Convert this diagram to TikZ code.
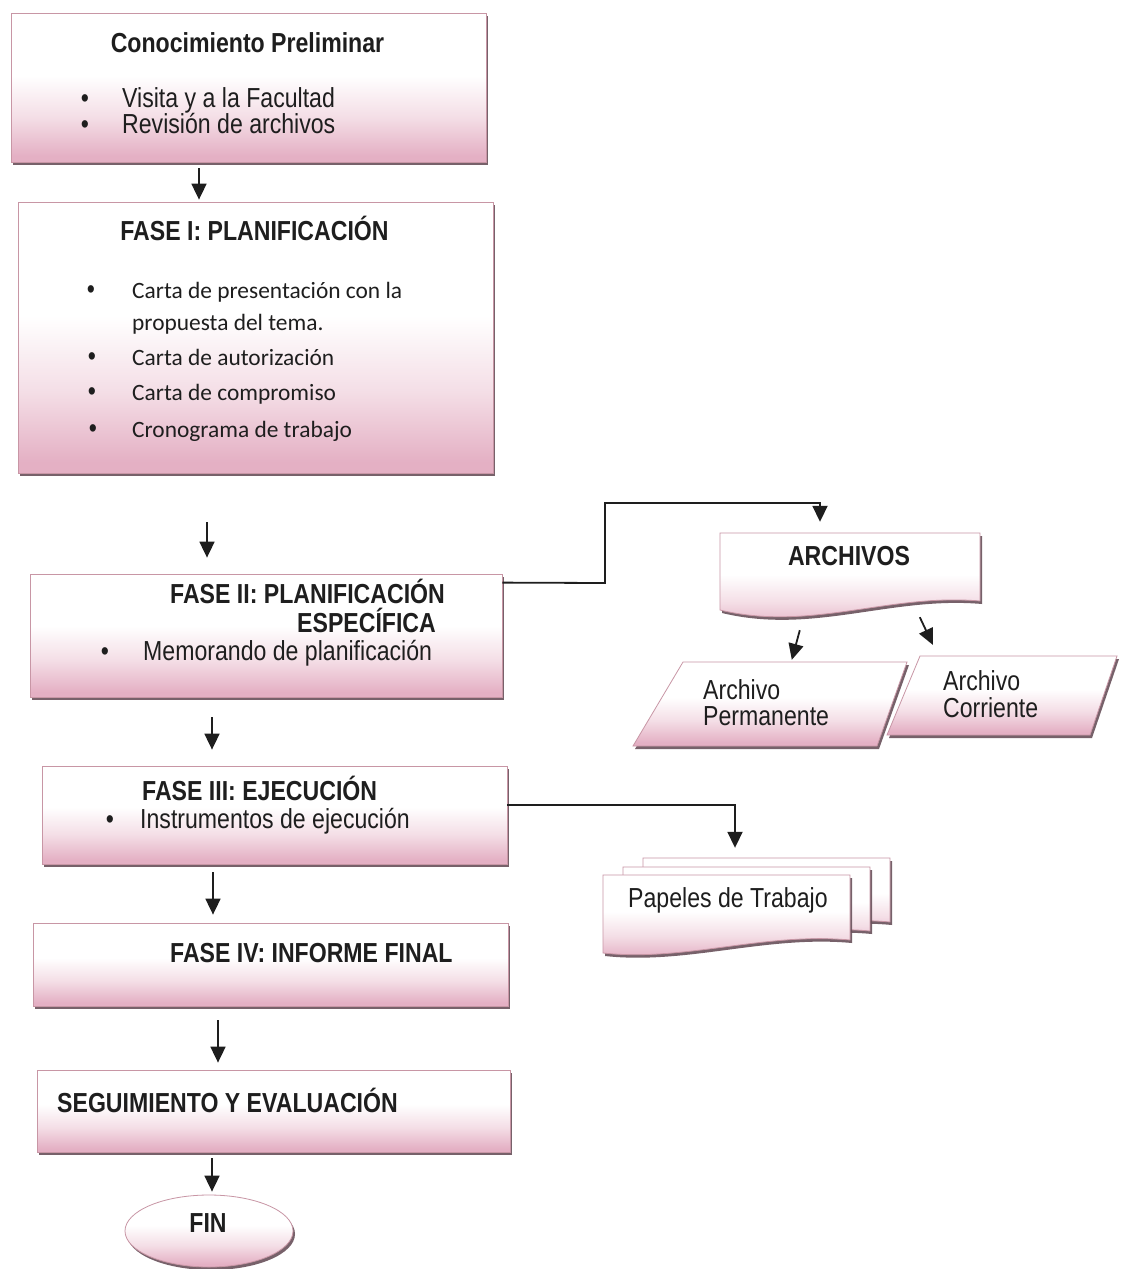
\documentclass[tikz,border=0pt]{standalone}
\usepackage{fontspec}
\setmainfont{Liberation Sans}
\newfontfamily\narfont{Liberation Sans}[FakeStretch=0.84]
\newfontfamily\calfont{Carlito}
\usetikzlibrary{arrows.meta,shapes.geometric,shadows,calc}
\definecolor{pinkc}{RGB}{228,176,196}
\definecolor{pinkm}{RGB}{244,222,230}
\definecolor{bord}{RGB}{200,150,165}
\definecolor{shad}{RGB}{105,80,90}
\definecolor{ink}{RGB}{30,30,30}
\pgfdeclareverticalshading{pinkgrad}{100bp}{color(0bp)=(pinkc); color(27bp)=(pinkc); color(40bp)=(pinkm); color(54bp)=(white); color(100bp)=(white)}
\tikzset{
  box/.style={draw=bord, line width=0.8pt, shade, shading=pinkgrad,
    drop shadow={shadow xshift=2pt, shadow yshift=-3pt, fill=shad, opacity=0.9}, inner sep=0pt},
  geo/.style={inner sep=0pt},
  arr/.style={line width=1.8pt, draw=ink, -{Triangle[width=15pt,length=16pt]}},
  tbc/.style={anchor=base, inner sep=0pt, text=ink, font=\narfont\bfseries\fontsize{27.5}{33}\selectfont},
  tbw/.style={anchor=base west, inner sep=0pt, text=ink, font=\narfont\bfseries\fontsize{27.5}{33}\selectfont},
  trw/.style={anchor=base west, inner sep=0pt, text=ink, font=\narfont\fontsize{27.5}{33}\selectfont},
  bul/.style={anchor=base, inner sep=0pt, text=ink, font=\narfont\fontsize{27.5}{33}\selectfont},
  cal/.style={anchor=base west, inner sep=0pt, text=ink, font=\calfont\fontsize{23.4}{28}\selectfont},
}
\begin{document}
\begin{tikzpicture}[x=1pt,y=-1pt]
\fill[white] (0,0) rectangle (1120,1269);
\useasboundingbox (0,0) rectangle (1120,1269);

% main boxes
\node[box, minimum width=475pt, minimum height=149pt] (b1) at (248.5,87.5) {};
\node[box, minimum width=475pt, minimum height=271pt] (b2) at (255.5,337.5) {};
\node[box, minimum width=472pt, minimum height=123pt] (b3) at (266,635.5) {};
\node[box, minimum width=465pt, minimum height=98pt] (b4) at (274.5,815) {};
\node[box, minimum width=475pt, minimum height=83pt] (b5) at (270.5,964.5) {};
\node[box, minimum width=473pt, minimum height=82pt] (b6) at (273.5,1111) {};
\node[box, ellipse, minimum width=168pt, minimum height=72pt] (fin) at (209,1231) {};

% right side shapes
\path[box] (720,533) -- (980,533) -- (980,601) .. controls (889,593) and (811,632) .. (720,610) -- cycle;
\path[box] (683,662) -- (907,662) -- (877,746) -- (633,746) -- cycle;
\path[box] (920,656) -- (1117,656) -- (1090,735) -- (887,735) -- cycle;
\path[box] (643,858) -- (890,858) -- (890,922) .. controls (804,914) and (725,942) .. (643,935) -- cycle;
\path[box] (623,867) -- (870,867) -- (870,931) .. controls (784,923) and (705,951) .. (623,944) -- cycle;
\path[box] (603,875) -- (850,875) -- (850,940) .. controls (764,932) and (685,962) .. (603,953) -- cycle;

% invisible geometry nodes for the right side shapes
\node[geo, minimum width=260pt, minimum height=87pt] (arch) at (850,576.5) {};
\node[geo, minimum width=274pt, minimum height=84pt] (par1) at (770,704) {};
\node[geo, minimum width=230pt, minimum height=79pt] (par2) at (1002,695.5) {};
\node[geo, minimum width=247pt, minimum height=80pt] (pap) at (726.5,915) {};

% texts box 1
\node[tbc] (t1) at (247.5,52) {Conocimiento Preliminar};
\node[bul] (t1b1) at (85,107) {•};
\node[trw] (t1l1) at (122,107) {Visita y a la Facultad};
\node[bul] (t1b2) at (85,133) {•};
\node[trw] (t1l2) at (122,133) {Revisión de archivos};

% texts box 2
\node[tbc] (t2) at (254.5,240) {FASE I: PLANIFICACIÓN};
\node[bul] (t2b1) at (91,298) {•};
\node[cal] (t2l1) at (132,298) {Carta de presentación con la};
\node[cal] (t2l2) at (132,330) {propuesta del tema.};
\node[bul] (t2b3) at (92,365) {•};
\node[cal] (t2l3) at (132,365) {Carta de autorización};
\node[bul] (t2b4) at (92,400) {•};
\node[cal] (t2l4) at (132,400) {Carta de compromiso};
\node[bul] (t2b5) at (93,437) {•};
\node[cal] (t2l5) at (132,437) {Cronograma de trabajo};

% texts box 3
\node[tbw] (t3a) at (170,603) {FASE II: PLANIFICACIÓN};
\node[tbw] (t3b) at (297,632) {ESPECÍFICA};
\node[bul] (t3b1) at (105,660) {•};
\node[trw] (t3l1) at (143,660) {Memorando de planificación};

% texts box 4
\node[tbw] (t4) at (142,800) {FASE III: EJECUCIÓN};
\node[bul] (t4b1) at (110,828) {•};
\node[trw] (t4l1) at (140,828) {Instrumentos de ejecución};

% texts box 5, 6, fin
\node[tbw] (t5) at (170,962) {FASE IV: INFORME FINAL};
\node[tbw] (t6) at (57,1112) {SEGUIMIENTO Y EVALUACIÓN};
\node[tbc] (tfin) at (208,1232) {FIN};

% right texts
\node[tbc] (tarch) at (849,565) {ARCHIVOS};
\node[trw] (tp1) at (703,699) {Archivo};
\node[trw] (tp2) at (703,725) {Permanente};
\node[trw] (tc1) at (943,690) {Archivo};
\node[trw] (tc2) at (943,717) {Corriente};
\node[trw] (tpap) at (628,907) {Papeles de Trabajo};

% vertical arrows
\draw[arr, shorten <=6pt, shorten >=2pt] (b1.south -| 199,0) -- (b2.north -| 199,0);
\draw[arr, shorten <=49pt, shorten >=16pt] (b2.south -| 207,0) -- (b3.north -| 207,0);
\draw[arr, shorten <=20pt, shorten >=16pt] (b3.south -| 212,0) -- (b4.north -| 212,0);
\draw[arr, shorten <=8pt, shorten >=8pt] (b4.south -| 213,0) -- (b5.north -| 213,0);
\draw[arr, shorten <=14pt, shorten >=7pt] (b5.south -| 218,0) -- (b6.north -| 218,0);
\draw[arr, shorten <=6pt, shorten >=3pt] (b6.south -| 212,0) -- (fin.north -| 212,0);

% side connectors
\draw[arr, shorten >=11pt] ([yshift=-9pt]b3.north east) -- (605,583) -- (605,503) -- (820,503) -- (arch.north -| 820,0);
\draw[arr, shorten >=27pt] ([yshift=10pt]b4.east) -| (pap.north -| 735,0);
\draw[arr] ($(arch.south west)+(80,10)$) -- ($(par1.north west)+(159,-2)$);
\draw[arr] ($(arch.south west)+(200,-3)$) -- ($(par2.north west)+(46,-11)$);
\end{tikzpicture}
\end{document}
